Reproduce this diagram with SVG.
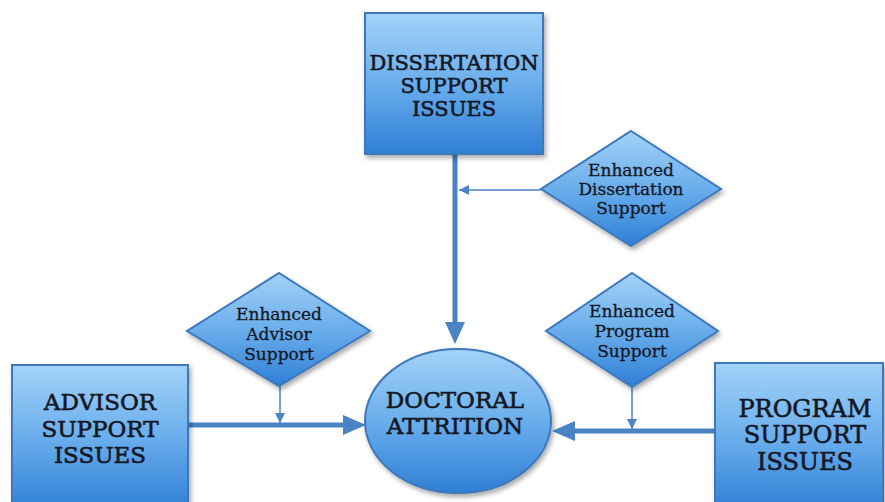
<svg xmlns="http://www.w3.org/2000/svg" width="885" height="502" viewBox="0 0 885 502">
<defs>
<linearGradient id="g" x1="0" y1="0" x2="0" y2="1">
<stop offset="0" stop-color="#a3d2f8"/>
<stop offset="0.5" stop-color="#6aaeec"/>
<stop offset="1" stop-color="#2f7fd6"/>
</linearGradient>
<filter id="sh" x="-20%" y="-20%" width="140%" height="140%">
<feDropShadow dx="2" dy="3" stdDeviation="2.5" flood-color="#000" flood-opacity="0.35"/>
</filter>
<marker id="ah" markerWidth="22" markerHeight="20" refX="22" refY="10" orient="auto" markerUnits="userSpaceOnUse">
<path d="M0,0 L22,10 L0,20 Z" fill="#4a84c4"/>
</marker>
<marker id="ahs" markerWidth="10" markerHeight="10" refX="10" refY="5" orient="auto" markerUnits="userSpaceOnUse">
<path d="M0,0 L10,5 L0,10 Z" fill="#4a84c4"/>
</marker>
</defs>
<style>
.shape{fill:url(#g);stroke:#3d78ba;stroke-width:2;filter:url(#sh)}
.big{font-family:"DejaVu Serif",serif;fill:#141824;stroke:#141824;stroke-width:0.6;text-anchor:middle}
.sm{font-family:"DejaVu Serif",serif;font-size:17px;fill:#141824;stroke:#141824;stroke-width:0.3;text-anchor:middle}
.thick{stroke:#4a84c4;stroke-width:5;fill:none}
.thin{stroke:#4a84c4;stroke-width:1.5;fill:none}
</style>
<rect width="885" height="502" fill="#ffffff"/>
<g id="connectors">
<line class="thick" x1="455" y1="155" x2="455" y2="338"/>
<path d="M445,322 L465,322 L455,344 Z" fill="#4a84c4"/>
<line class="thick" x1="188" y1="425" x2="360" y2="425"/>
<path d="M343,415 L343,435 L366,425 Z" fill="#4a84c4"/>
<line class="thick" x1="715" y1="431" x2="558" y2="431"/>
<path d="M575,421 L575,441 L552,431 Z" fill="#4a84c4"/>
<line class="thin" x1="541" y1="190" x2="459" y2="190" marker-end="url(#ahs)"/>
<line class="thin" x1="280" y1="386" x2="280" y2="423" marker-end="url(#ahs)"/>
<line class="thin" x1="632" y1="387" x2="632" y2="429" marker-end="url(#ahs)"/>
</g>
<g id="dissertation">
<rect class="shape" x="365" y="13" width="178" height="141"/>
<text class="big" font-size="21" x="454" y="70">DISSERTATION</text>
<text class="big" font-size="21" x="454" y="93">SUPPORT</text>
<text class="big" font-size="21" x="454" y="116">ISSUES</text>
</g>
<g id="enh-dissertation">
<polygon class="shape" points="631,131 721,189 631,246 541,189"/>
<text class="sm" x="631" y="176">Enhanced</text>
<text class="sm" x="631" y="195">Dissertation</text>
<text class="sm" x="631" y="214">Support</text>
</g>
<g id="enh-advisor">
<polygon class="shape" points="279,273 370,331 279,386 187,331"/>
<text class="sm" x="279" y="320">Enhanced</text>
<text class="sm" x="279" y="340">Advisor</text>
<text class="sm" x="279" y="360">Support</text>
</g>
<g id="enh-program">
<polygon class="shape" points="632,273 718,331 632,387 546,331"/>
<text class="sm" x="632" y="317">Enhanced</text>
<text class="sm" x="632" y="337">Program</text>
<text class="sm" x="632" y="357">Support</text>
</g>
<g id="advisor">
<rect class="shape" x="12" y="365" width="176" height="145"/>
<text class="big" font-size="23" x="100" y="410">ADVISOR</text>
<text class="big" font-size="23" x="100" y="437">SUPPORT</text>
<text class="big" font-size="23" x="100" y="463">ISSUES</text>
</g>
<g id="attrition">
<ellipse class="shape" cx="458" cy="421" rx="93" ry="72"/>
<text class="big" font-size="23" x="455" y="408">DOCTORAL</text>
<text class="big" font-size="23" x="455" y="434">ATTRITION</text>
</g>
<g id="program">
<rect class="shape" x="715" y="363" width="168" height="150"/>
<text class="big" font-size="24" x="805" y="417">PROGRAM</text>
<text class="big" font-size="24" x="805" y="443">SUPPORT</text>
<text class="big" font-size="24" x="805" y="470">ISSUES</text>
</g>
</svg>
